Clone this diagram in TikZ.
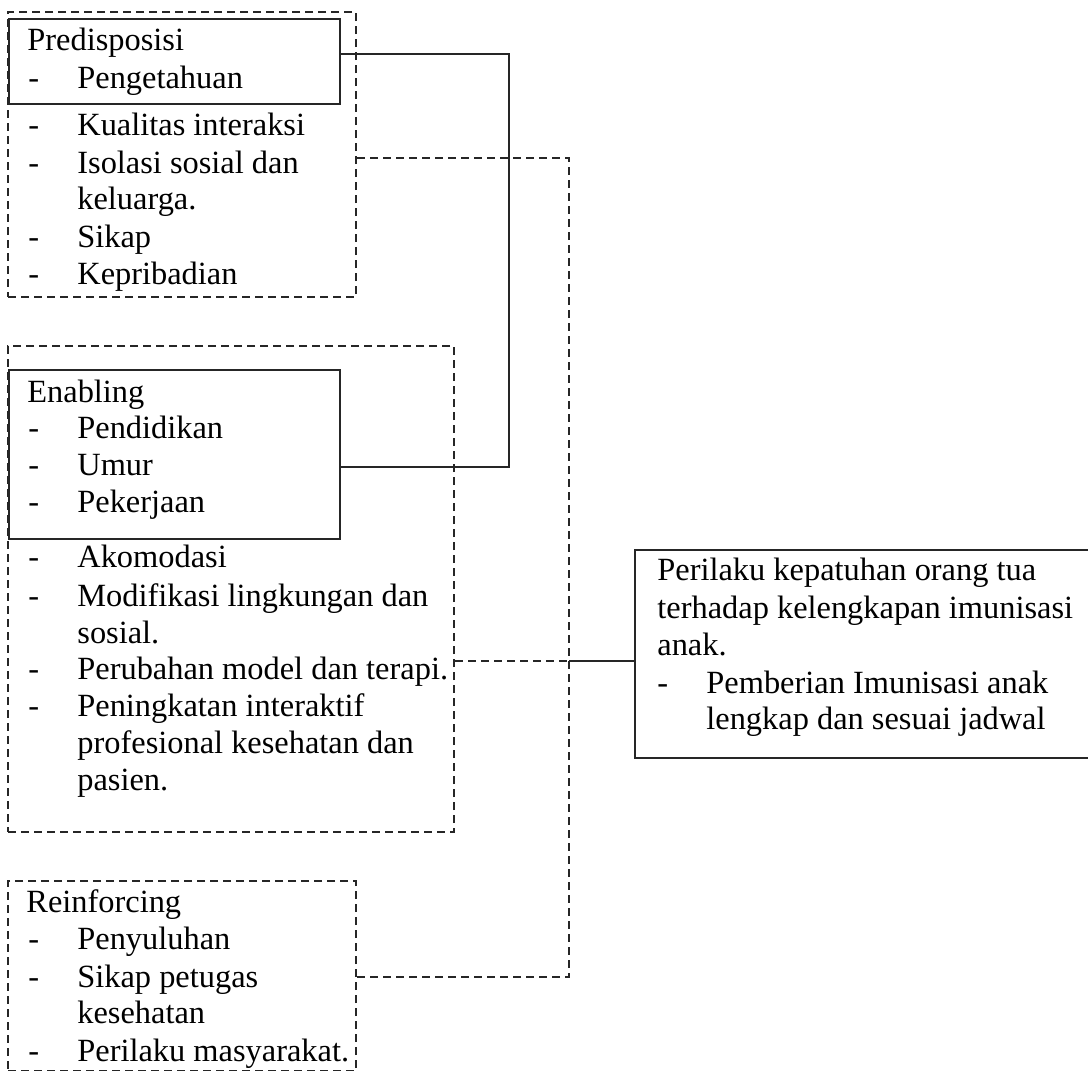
\documentclass[tikz,border=0pt]{standalone}
\usepackage{fontspec}
\setmainfont{Liberation Serif}
\usetikzlibrary{fit}
\newcommand{\diagfont}{\fontsize{16.2pt}{18.75pt}\selectfont}
\newcommand{\itm}[1]{\makebox[24.5pt][l]{-}#1}
\begin{document}
\begin{tikzpicture}[x=0.5pt,y=-0.5pt,
  txt/.style={anchor=base west, inner sep=0pt, font=\diagfont, text=black},
  sbox/.style={draw=black!85, line width=1.3pt, inner sep=0pt},
  dbox/.style={draw=black!85, line width=1.4pt, dash pattern=on 4pt off 2.5pt, inner sep=0pt},
  sline/.style={draw=black!85, line width=1.3pt},
  dline/.style={draw=black!85, line width=1.4pt, dash pattern=on 4pt off 2.5pt}]
\fill[white] (0,0) rectangle (1088,1071);
\useasboundingbox (0,0) rectangle (1088,1071);

% boxes
\node[dbox, fit={(8,12) (356,297)}] (predD) {};
\node[sbox, fit={(9,19) (340,104)}] (predS) {};
\node[dbox, fit={(8,346) (454,832)}] (enD) {};
\node[sbox, fit={(9,370) (340,539)}] (enS) {};
\node[dbox, fit={(8,881) (356,1071)}] (reD) {};
\node[sbox, fit={(635,550) (1095,758)}] (out) {};

% Predisposisi
\node[txt] (p0) at (27,50) {Predisposisi};
\node[txt] (p1) at (28,88) {\itm{Pengetahuan}};
\node[txt] (p2) at (28,135) {\itm{Kualitas interaksi}};
\node[txt] (p3) at (28,173) {\itm{Isolasi sosial dan}};
\node[txt] (p4) at (77,209) {keluarga.};
\node[txt] (p5) at (28,247) {\itm{Sikap}};
\node[txt] (p6) at (28,284) {\itm{Kepribadian}};

% Enabling
\node[txt] (e0) at (27,402) {Enabling};
\node[txt] (e1) at (28,438) {\itm{Pendidikan}};
\node[txt] (e2) at (28,475) {\itm{Umur}};
\node[txt] (e3) at (28,512) {\itm{Pekerjaan}};
\node[txt] (e4) at (28,567) {\itm{Akomodasi}};
\node[txt] (e5) at (28,606) {\itm{Modifikasi lingkungan dan}};
\node[txt] (e6) at (77,643) {sosial.};
\node[txt] (e7) at (28,679) {\itm{Perubahan model dan terapi.}};
\node[txt] (e8) at (28,716) {\itm{Peningkatan interaktif}};
\node[txt] (e9) at (77,753) {profesional kesehatan dan};
\node[txt] (e10) at (77,790) {pasien.};

% Reinforcing
\node[txt] (r0) at (26,912) {Reinforcing};
\node[txt] (r1) at (28,949) {\itm{Penyuluhan}};
\node[txt] (r2) at (28,987) {\itm{Sikap petugas}};
\node[txt] (r3) at (77,1023) {kesehatan};
\node[txt] (r4) at (28,1061) {\itm{Perilaku masyarakat.}};

% Output box
\node[txt] (o0) at (657,580) {Perilaku kepatuhan orang tua};
\node[txt] (o1) at (657,618) {terhadap kelengkapan imunisasi};
\node[txt] (o2) at (657,655) {anak.};
\node[txt] (o3) at (657,693) {\itm{Pemberian Imunisasi anak}};
\node[txt] (o4) at (706,729) {lengkap dan sesuai jadwal};

% connectors
\coordinate (c1) at (509,54);
\coordinate (c2) at (509,467);
\coordinate (c3) at (569,158);
\coordinate (c4) at (569,977);
\coordinate (c5) at (569,661);
\draw[sline] (c1 -| predS.east) -- (c1) -- (c2) -- (c2 -| enS.east);
\draw[dline] (c3 -| predD.east) -- (c3) -- (c4) -- (c4 -| reD.east);
\draw[dline] (c5 -| enD.east) -- (c5);
\draw[sline] (c5) -- (c5 -| out.west);
\end{tikzpicture}
\end{document}
